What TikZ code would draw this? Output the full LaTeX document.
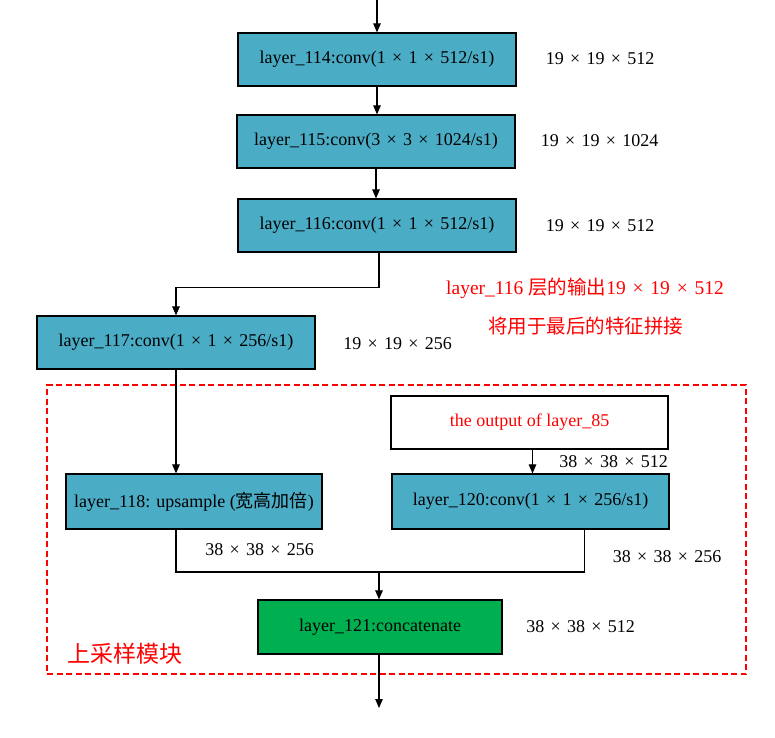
\documentclass[tikz,border=0pt]{standalone}
\usepackage{fontspec}
\setmainfont{Liberation Serif}
\newfontfamily\cjk{Noto Sans CJK SC}
\usetikzlibrary{arrows.meta}
\definecolor{boxteal}{HTML}{4BACC6}
\definecolor{boxgreen}{HTML}{00B050}
\newcommand\X{\hspace{0.35em}×\hspace{0.35em}}
\tikzset{
  layerbox/.style={draw=black, line width=1.2pt, fill=boxteal, minimum height=53pt, inner sep=0pt, font=\fontsize{18}{20}\selectfont},
  dimlabel/.style={inner sep=0pt, font=\fontsize{18}{20}\selectfont},
  redlabel/.style={inner sep=0pt, text=red, font=\fontsize{19.5}{21}\selectfont},
  conn/.style={line width=1.1pt, -{Triangle[length=9pt,width=7.5pt]}},
  plainconn/.style={line width=1.1pt}
}
\begin{document}
\begin{tikzpicture}[x=1pt,y=-1pt]
\useasboundingbox[fill=white] (0,0) rectangle (775,737);

% dashed block
\node[draw=red, line width=1.8pt, dash pattern=on 6pt off 3.5pt, minimum width=699pt, minimum height=289pt, inner sep=0pt] (blk) at (396.5,529.5) {};

\node[layerbox, minimum width=278pt] (b114) at (377,59.5) {layer\_114:conv(1\X1\X512/s1)};
\node[layerbox, minimum width=278pt] (b115) at (376,141.5) {layer\_115:conv(3\X3\X1024/s1)};
\node[layerbox, minimum width=278pt] (b116) at (377,225.5) {layer\_116:conv(1\X1\X512/s1)};
\node[layerbox, minimum width=278pt] (b117) at (176,342.5) {layer\_117:conv(1\X1\X256/s1)};
\node[layerbox, minimum width=277pt, fill=white] (b85) at (529.5,422.5) {\textcolor{red}{the output of layer\_85}};
\node[layerbox, minimum width=256pt, minimum height=55pt] (b118) at (194,501.5) {layer\_118: upsample ({\cjk 宽高加倍})};
\node[layerbox, minimum width=277pt, minimum height=55pt] (b120) at (530.5,501.5) {layer\_120:conv(1\X1\X256/s1)};
\node[layerbox, minimum width=244pt, minimum height=54pt, fill=boxgreen] (b121) at (380,627) {layer\_121:concatenate};

% dimension labels
\node[dimlabel] (d114) at (600,59) {19\X19\X512};
\node[dimlabel] (d115) at (599.5,141) {19\X19\X1024};
\node[dimlabel] (d116) at (600,226) {19\X19\X512};
\node[dimlabel] (d117) at (397.5,344) {19\X19\X256};
\node[dimlabel] (d85) at (613.5,462) {38\X38\X512};
\node[dimlabel] (d118) at (259.5,550) {38\X38\X256};
\node[dimlabel] (d120) at (667,557) {38\X38\X256};
\node[dimlabel] (d121) at (580.5,627) {38\X38\X512};

% red notes
\node[redlabel] (n1) at (585,288) {layer\_116 {\cjk 层的输出}19\X19\X512};
\node[redlabel] (n2) at (585.5,326) {\cjk 将用于最后的特征拼接};
\node[inner sep=0pt, text=red, font=\cjk\fontsize{23}{25}\selectfont] (n3) at (125,654) {上采样模块};

% connectors
\coordinate (top) at (377,0);
\coordinate (bot) at (379,708);
\coordinate (j) at (379,572);
\coordinate (l) at ([xshift=-18pt]b118.south);
\coordinate (r) at ([xshift=54pt]b120.south);
\draw[conn] (top) -- (b114.north);
\draw[conn] (b114.south) -- (b114.south |- b115.north);
\draw[conn] (b115.south) -- (b115.south |- b116.north);
\draw[conn] ([xshift=2pt]b116.south) -- ++(0,35) -| (b117.north);
\draw[conn] (b117.south) -- (b117.south |- b118.north);
\draw[conn] ([xshift=3pt]b85.south) -- ([xshift=3pt]b85.south |- b120.north);
\draw[plainconn] (l) -- (l |- j) -- (j -| r) -- (r);
\draw[conn] (j) -- (j |- b121.north);
\draw[conn] (j |- b121.south) -- (bot);
\end{tikzpicture}
\end{document}
